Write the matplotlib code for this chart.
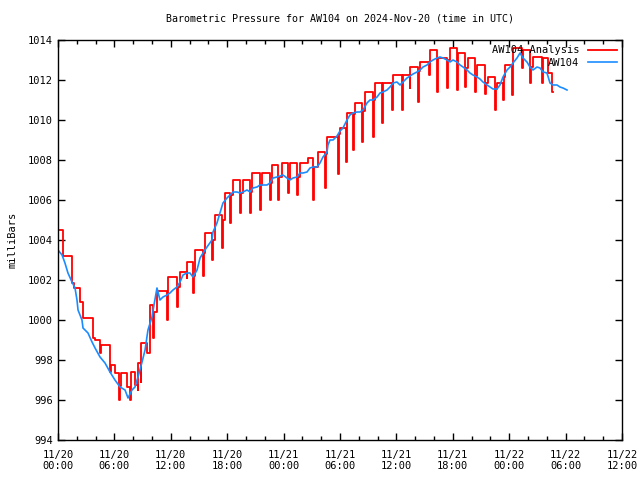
import matplotlib
matplotlib.use("Agg")
import matplotlib.pyplot as plt
import numpy as np

# ---- AW104 observations (hours since 2024-11-20 00:00 UTC, mbar) ----
obs_hours = [0.0, 0.43, 0.74, 1.06, 1.49, 1.81, 2.02, 2.13, 2.55, 2.66, 3.19, 3.62, 3.94,
             4.47, 5.0, 5.53, 6.06, 6.60, 7.13, 7.45, 7.87, 8.19, 8.51, 8.94, 9.26, 9.57,
             10.0, 10.21, 10.53, 10.85, 11.17, 11.6, 11.91, 12.23, 12.66, 12.98, 13.30,
             13.72, 14.04, 14.36, 14.79, 15.11, 15.43, 15.85, 16.38, 16.49, 16.91, 17.23,
             17.55, 17.98, 18.3, 18.62, 19.04, 19.36, 19.68, 20.11, 20.43, 20.74, 21.17,
             21.49, 21.81, 22.23, 22.55, 22.87, 23.3, 23.62, 23.94, 24.36, 24.68, 25.0,
             25.43, 25.74, 26.06, 26.49, 26.81, 27.13, 27.55, 27.87, 28.19, 28.62, 28.72,
             28.94, 29.26, 29.68, 30.0, 30.32, 30.74, 31.06, 31.38, 31.81, 32.13, 32.45,
             32.87, 33.19, 33.51, 33.94, 34.26, 34.57, 35.0, 35.32, 35.64, 36.06, 36.38,
             36.70, 37.13, 37.45, 37.77, 38.19, 38.51, 38.83, 39.26, 39.57, 39.89, 40.32,
             40.64, 40.96, 41.38, 41.70, 42.02, 42.45, 42.77, 43.09, 43.51, 43.83, 44.15,
             44.57, 44.89, 45.21, 45.64, 45.96, 46.28, 46.70, 47.02, 47.34, 47.77, 48.09,
             48.40, 48.83, 49.15, 49.47, 49.89, 50.21, 50.53, 50.96, 51.28, 51.60, 52.02,
             52.34, 52.66, 53.09, 53.40, 53.72, 54.15]
obs_mbar = [1003.5, 1003.25, 1002.85, 1002.35, 1001.9, 1001.6, 1001.0, 1000.5, 1000.0, 999.6,
            999.35, 998.9, 998.6, 998.15, 997.85, 997.4, 997.0, 996.65, 996.5, 996.1, 996.5,
            996.65, 997.15, 997.9, 998.5, 999.5, 1000.15, 1000.75, 1001.6, 1001.0, 1001.15,
            1001.25, 1001.35, 1001.5, 1001.65, 1001.9, 1002.25, 1002.35, 1002.35, 1002.15,
            1002.5, 1003.1, 1003.35, 1003.65, 1004.0, 1004.4, 1004.85, 1005.35, 1005.85,
            1006.1, 1006.25, 1006.4, 1006.4, 1006.35, 1006.4, 1006.5, 1006.4, 1006.6,
            1006.65, 1006.75, 1006.75, 1006.75, 1006.85, 1007.1, 1007.15, 1007.2, 1007.25,
            1007.1, 1007.0, 1007.1, 1007.15, 1007.35, 1007.35, 1007.4, 1007.6, 1007.65,
            1007.65, 1007.85, 1008.15, 1008.4, 1008.75, 1009.0, 1009.0, 1009.2, 1009.45,
            1009.6, 1010.0, 1010.25, 1010.35, 1010.4, 1010.4, 1010.5, 1010.85, 1011.0,
            1011.0, 1011.15, 1011.35, 1011.4, 1011.5, 1011.65, 1011.85, 1011.9, 1011.75,
            1011.9, 1012.1, 1012.2, 1012.3, 1012.4, 1012.5, 1012.65, 1012.75, 1012.9,
            1013.0, 1013.1, 1013.15, 1013.1, 1013.0, 1012.9, 1013.0, 1012.9, 1012.75,
            1012.65, 1012.5, 1012.35, 1012.25, 1012.15, 1012.05, 1011.9, 1011.75, 1011.65,
            1011.55, 1011.55, 1011.75, 1012.15, 1012.5, 1012.65, 1012.85, 1013.1, 1013.35,
            1013.1, 1012.9, 1012.65, 1012.5, 1012.65, 1012.6, 1012.4, 1012.35, 1011.85,
            1011.75, 1011.75, 1011.65, 1011.6, 1011.5]

# ---- AW104 analysis: plateau start/end (hours), plateau level, dip level, level after dip ----
ana_start = [0.0, 0.53, 1.70, 2.66, 3.94, 4.57, 5.64, 6.06, 6.70, 7.34, 7.77, 8.19, 8.51,
             8.83, 9.79, 10.53, 11.70, 12.98, 13.72, 14.57, 15.64, 16.70, 17.77, 18.62,
             19.68, 20.64, 21.70, 22.77, 23.83, 24.68, 25.74, 26.60, 27.66, 28.62, 30.0,
             30.74, 31.60, 32.66, 33.72, 34.57, 35.64, 36.70, 37.45, 38.51, 39.57, 40.43,
             41.70, 42.55, 43.62, 44.57, 45.74, 46.70, 47.55, 48.40, 49.47, 50.53, 51.60,
             52.13]
ana_end = [0.53, 1.49, 2.34, 3.72, 4.47, 5.53, 6.06, 6.49, 7.34, 7.66, 8.19, 8.51, 8.83,
           9.47, 10.11, 11.60, 12.66, 13.72, 14.36, 15.43, 16.38, 17.45, 18.30, 19.36,
           20.43, 21.49, 22.55, 23.40, 24.47, 25.43, 26.60, 27.13, 28.40, 29.79, 30.64,
           31.38, 32.34, 33.51, 34.47, 35.53, 36.60, 37.45, 38.30, 39.47, 40.32, 41.38,
           42.45, 43.30, 44.36, 45.43, 46.49, 47.34, 48.30, 49.36, 50.21, 51.49, 52.13,
           52.55]
ana_level = [1004.5, 1003.2, 1001.6, 1000.1, 999.0, 998.75, 997.75, 997.35, 997.35, 996.65,
             997.4, 996.75, 997.85, 998.85, 1000.75, 1001.45, 1002.15, 1002.4, 1002.9,
             1003.5, 1004.35, 1005.25, 1006.35, 1007.0, 1007.0, 1007.35, 1007.35, 1007.75,
             1007.85, 1007.85, 1007.85, 1008.1, 1008.4, 1009.15, 1009.6, 1010.35, 1010.85,
             1011.4, 1011.85, 1011.85, 1012.25, 1012.25, 1012.65, 1012.9, 1013.5, 1013.1,
             1013.6, 1013.35, 1013.1, 1012.75, 1012.15, 1011.85, 1012.75, 1013.6, 1013.5,
             1013.15, 1013.1, 1012.35]
ana_dip = [1003.85, 1001.85, 1000.9, 999.1, 998.35, 997.4, 997.35, 996.0, 996.65, 996.0,
           996.75, 996.5, 996.9, 998.35, 999.1, 1000.0, 1000.65, 1002.1, 1001.35, 1002.2,
           1003.0, 1003.6, 1004.85, 1005.35, 1005.35, 1005.5, 1006.0, 1006.0, 1006.35,
           1006.25, 1007.85, 1006.0, 1006.6, 1007.3, 1007.9, 1008.5, 1008.9, 1009.15,
           1009.85, 1010.5, 1010.5, 1011.6, 1010.9, 1012.25, 1011.4, 1011.6, 1011.5,
           1011.65, 1011.4, 1011.3, 1010.5, 1011.0, 1011.25, 1012.6, 1011.85, 1011.85,
           1012.35, 1011.4]
ana_low = [1003.85, 1001.85, 1000.9, 999.1, 998.35, 997.4, 997.35, 996.7, 996.65, 996.3,
           996.75, 996.5, 996.9, 998.35, 1000.4, 1001.2, 1001.65, 1002.35, 1002.2, 1003.35,
           1004.0, 1005.0, 1006.25, 1006.35, 1006.4, 1006.75, 1006.85, 1007.15, 1007.05,
           1007.15, 1007.85, 1007.65, 1008.3, 1009.3, 1009.9, 1010.3, 1010.45, 1011.0,
           1011.4, 1011.8, 1011.85, 1012.2, 1012.45, 1012.8, 1013.1, 1013.0, 1012.9,
           1012.6, 1012.2, 1011.85, 1011.55, 1012.15, 1012.8, 1013.2, 1012.65, 1012.5,
           1012.35, 1011.4]

x_tick_labels = ["11/20\n00:00", "11/20\n06:00", "11/20\n12:00", "11/20\n18:00",
                 "11/21\n00:00", "11/21\n06:00", "11/21\n12:00", "11/21\n18:00",
                 "11/22\n00:00", "11/22\n06:00", "11/22\n12:00"]
y_ticks = [994, 996, 998, 1000, 1002, 1004, 1006, 1008, 1010, 1012, 1014]

plt.rcParams['font.family'] = ['DejaVu Sans Mono']
fig = plt.figure(figsize=(6.4, 4.8), dpi=100)
ax = fig.add_axes([58/640, 40/480, 564/640, 400/480])

# analysis step trace built from the plateau table
DIP_WIDTH = 0.07
sx, sy = [], []
n = len(ana_start)
for i in range(n):
    s, e = ana_start[i], ana_end[i]
    nxt = ana_start[i + 1] if i + 1 < n else e + 0.2
    sx += [s, e]
    sy += [ana_level[i], ana_dip[i]]
    if e + DIP_WIDTH < nxt:
        sx.append(e + DIP_WIDTH)
        sy.append(ana_low[i])
sx.append(ana_end[-1] + 0.12)
sy.append(ana_low[-1])
ax.plot(sx, sy, drawstyle='steps-post', color='#ff0000', lw=1.3, label='AW104 Analysis')
ax.plot(obs_hours, obs_mbar, color='#1a8cff', lw=1.2, label='AW104')

ax.set_xlim(0, 60)
ax.set_ylim(994, 1014)
ax.set_xticks(np.arange(0, 61, 6))
ax.set_xticklabels(x_tick_labels)
ax.set_xticks(np.arange(0, 61, 2), minor=True)
ax.set_yticks(y_ticks)
ax.set_yticklabels([str(v) for v in y_ticks])
ax.tick_params(which='both', direction='in', top=True, right=True, labelsize=7.5, width=1)
ax.tick_params(which='major', length=5)
ax.tick_params(which='minor', length=3)
ax.tick_params(axis='x', pad=7)
for sp in ax.spines.values():
    sp.set_linewidth(1)

ax.set_title('Barometric Pressure for AW104 on 2024-Nov-20 (time in UTC)', fontsize=7.2, pad=13)
ax.set_ylabel('milliBars', fontsize=7.5, labelpad=8)

leg = ax.legend(loc='upper right', frameon=False, fontsize=7.5, handlelength=2.8,
                markerfirst=False, borderaxespad=0.3, labelspacing=0.25, handletextpad=0.8,
                borderpad=0.2)
for t in leg.get_texts():
    t.set_ha('right')

fig.savefig('out.png', dpi=100)
